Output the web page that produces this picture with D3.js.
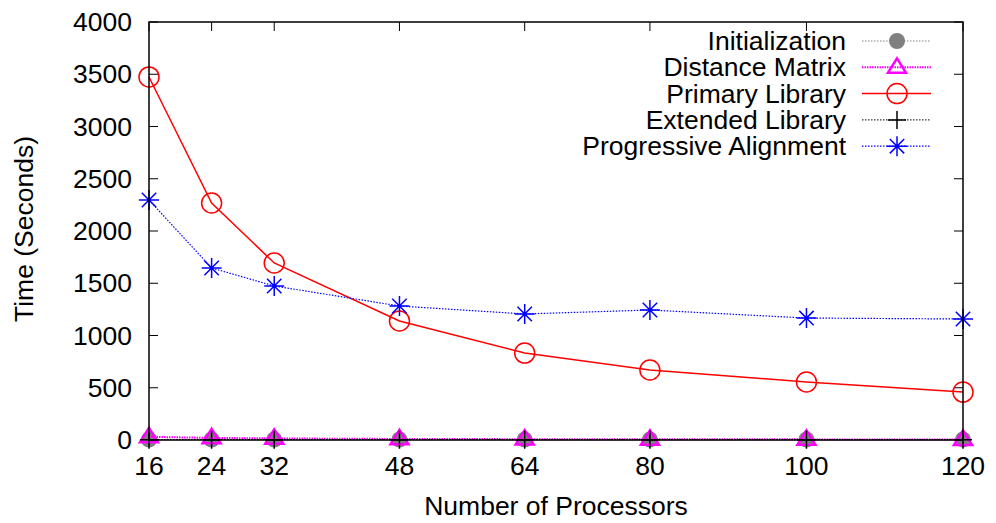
<!DOCTYPE html>
<html>
<head>
<meta charset="utf-8">
<script src="https://cdn.jsdelivr.net/npm/d3@7"></script>
<style>
  body { margin: 0; background: #fff; }
  svg text { font-family: "Liberation Sans", Arial, sans-serif; }
</style>
</head>
<body>
<div id="chart"></div>
<script>
// processors (x) and timings in seconds
const processors = [16, 24, 32, 48, 64, 80, 100, 120];
const initialization = [5, 5, 5, 5, 5, 5, 5, 5];
const distanceMatrix = [30, 20, 15, 10, 8, 7, 6, 5];
const primaryLibrary = [3474, 2268, 1694, 1139, 832, 670, 555, 459];
const extendedLibrary = [3, 3, 3, 3, 3, 3, 3, 3];
const progressiveAlignment = [2297, 1646, 1474, 1282, 1206, 1244, 1167, 1158];
const yTicks = [0, 500, 1000, 1500, 2000, 2500, 3000, 3500, 4000];

const w = 996, h = 523;
const plotLeft = 149, plotRight = 963, plotTop = 22, plotBottom = 440;
const fs = 26.5;

const svg = d3.select('#chart').append('svg')
    .attr('width', w).attr('height', h);

const x = d3.scaleLinear().domain([16, 120]).range([plotLeft, plotRight]);
const y = d3.scaleLinear().domain([0, 4000]).range([plotBottom, plotTop]);

// ticks, inward on all four sides
const tickLen = 9;
const axes = svg.append('g').attr('stroke', '#000').attr('stroke-width', 1);
yTicks.forEach(t => {
    axes.append('line').attr('x1', plotLeft).attr('x2', plotLeft + tickLen).attr('y1', y(t)).attr('y2', y(t));
    axes.append('line').attr('x1', plotRight).attr('x2', plotRight - tickLen).attr('y1', y(t)).attr('y2', y(t));
});
processors.forEach(p => {
    axes.append('line').attr('x1', x(p)).attr('x2', x(p)).attr('y1', plotBottom).attr('y2', plotBottom - tickLen);
    axes.append('line').attr('x1', x(p)).attr('x2', x(p)).attr('y1', plotTop).attr('y2', plotTop + tickLen);
});

svg.selectAll('.ylab').data(yTicks).enter().append('text')
    .attr('x', 132).attr('y', d => y(d) + 9)
    .attr('text-anchor', 'end').attr('font-size', fs).text(d => d);
svg.selectAll('.xlab').data(processors).enter().append('text')
    .attr('x', d => x(d)).attr('y', 475)
    .attr('text-anchor', 'middle').attr('font-size', fs).text(d => d);

svg.append('text').attr('x', 556).attr('y', 515)
    .attr('text-anchor', 'middle').attr('font-size', fs).text('Number of Processors');
svg.append('text').attr('transform', 'translate(33,229) rotate(-90)')
    .attr('text-anchor', 'middle').attr('font-size', fs).text('Time (Seconds)');

// marker shapes
function drawMarker(g, type, cx, cy, color) {
    if (type === 'disc') {
        g.append('circle').attr('cx', cx).attr('cy', cy).attr('r', 8).attr('fill', color);
    } else if (type === 'triangle') {
        const s = 9;
        g.append('path')
            .attr('d', `M${cx},${cy - s} L${cx + s},${cy + s * 0.6} L${cx - s},${cy + s * 0.6} Z`)
            .attr('fill', 'none').attr('stroke', color).attr('stroke-width', 2.5);
    } else if (type === 'circle') {
        g.append('circle').attr('cx', cx).attr('cy', cy).attr('r', 10)
            .attr('fill', 'none').attr('stroke', color).attr('stroke-width', 1.5);
    } else if (type === 'plus') {
        const s = 9;
        g.append('path').attr('d', `M${cx - s},${cy} H${cx + s} M${cx},${cy - s} V${cy + s}`)
            .attr('stroke', color).attr('stroke-width', 1.5);
    } else if (type === 'star') {
        const s = 10, d = s * 0.72;
        g.append('path')
            .attr('d', `M${cx - s},${cy} H${cx + s} M${cx},${cy - s} V${cy + s} M${cx - d},${cy - d} L${cx + d},${cy + d} M${cx - d},${cy + d} L${cx + d},${cy - d}`)
            .attr('stroke', color).attr('stroke-width', 1.5);
    }
}

const series = [
    { name: 'Initialization', values: initialization, color: '#808080', marker: 'disc', dash: '1.5,1.5', width: 1 },
    { name: 'Distance Matrix', values: distanceMatrix, color: '#ff00ff', marker: 'triangle', dash: '1.5,1', width: 2 },
    { name: 'Primary Library', values: primaryLibrary, color: '#ff0000', marker: 'circle', dash: null, width: 1.5 },
    { name: 'Extended Library', values: extendedLibrary, color: '#000000', marker: 'plus', dash: '1.5,1.5', width: 1 },
    { name: 'Progressive Alignment', values: progressiveAlignment, color: '#0000ff', marker: 'star', dash: '1.5,1.5', width: 1.2 }
];

const line = d3.line().x((d, i) => x(processors[i])).y(d => y(d));

series.forEach((s, k) => {
    const g = svg.append('g');
    g.append('path').datum(s.values).attr('d', line)
        .attr('fill', 'none').attr('stroke', s.color).attr('stroke-width', s.width)
        .attr('stroke-dasharray', s.dash);
    s.values.forEach((v, i) => drawMarker(g, s.marker, x(processors[i]), y(v), s.color));

    // legend entry
    const ly = 41 + k * 26.3;
    svg.append('text').attr('x', 846).attr('y', ly + 9).attr('text-anchor', 'end')
        .attr('font-size', fs).text(s.name);
    svg.append('line').attr('x1', 862).attr('x2', 931).attr('y1', ly).attr('y2', ly)
        .attr('stroke', s.color).attr('stroke-width', s.width).attr('stroke-dasharray', s.dash);
    drawMarker(svg.append('g'), s.marker, 897, ly, s.color);
});

// border
svg.append('rect').attr('x', plotLeft).attr('y', plotTop).attr('width', plotRight - plotLeft).attr('height', plotBottom - plotTop)
    .attr('fill', 'none').attr('stroke', '#000').attr('stroke-width', 1.5);
</script>
</body>
</html>
